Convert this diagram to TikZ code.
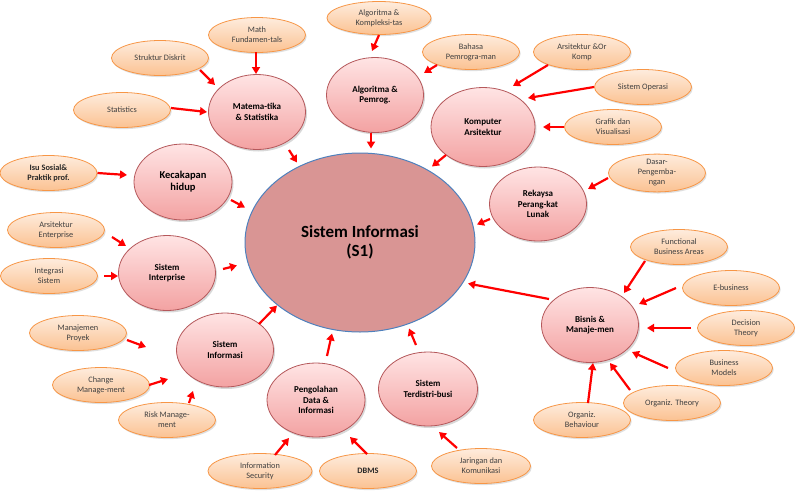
\documentclass[tikz,border=0pt]{standalone}
\usepackage{fontspec}
\setmainfont{Carlito}
\usetikzlibrary{shapes.geometric,shadows,arrows.meta}
\definecolor{pinkT}{HTML}{FFE4E4}
\definecolor{pinkB}{HTML}{F3A2A2}
\definecolor{pinkD}{HTML}{B5585B}
\definecolor{orT}{HTML}{FEECDD}
\definecolor{orB}{HTML}{FBC292}
\definecolor{orD}{HTML}{F79646}
\definecolor{coreF}{HTML}{D99594}
\definecolor{coreD}{HTML}{4F81BD}
\definecolor{arrRed}{HTML}{FF0000}
\newcommand{\conn}[6]{\draw[redarrow] ([shift={(#2,#3)}]#1.center) -- ([shift={(#5,#6)}]#4.center);}
\begin{document}
\begin{tikzpicture}[x=1pt,y=-1pt,
 orng/.style={ellipse, draw=orD, line width=0.8pt, top color=orT, bottom color=orB,
   minimum width=97pt, minimum height=35pt, inner sep=0pt, align=center,
   font=\fontsize{8.3}{10}\selectfont, text=black!75,
   drop shadow={opacity=0.25,shadow xshift=1.2pt,shadow yshift=-1.6pt}},
 pnk/.style={ellipse, draw=pinkD, line width=0.8pt, top color=pinkT, bottom color=pinkB,
   minimum width=97pt, minimum height=75pt, inner sep=0pt, align=center,
   font=\fontsize{9}{10.5}\selectfont\bfseries,
   drop shadow={opacity=0.3,shadow xshift=1.5pt,shadow yshift=-2pt}},
 core/.style={ellipse, draw=coreD, line width=1pt, fill=coreF,
   minimum width=230pt, minimum height=179pt, inner sep=0pt, align=center,
   font=\fontsize{17}{19.5}\selectfont\bfseries},
 redarrow/.style={draw=arrRed, line width=2.2pt, -{Triangle[length=7pt,width=8pt]}}
]
\fill[white] (0,0) rectangle (795,491);
\useasboundingbox (0,0) rectangle (795,491);

% center
\node[core] (C) at (360,242.5) {Sistem Informasi\\(S1)};

% pink circles
\node[pnk] (mat) at (257,112) {Matema-tika\\\& Statistika};
\node[pnk, minimum width=98pt, minimum height=76pt, font=\fontsize{10.5}{12}\selectfont\bfseries] (kec) at (183,182) {Kecakapan\\hidup};
\node[pnk] (alg) at (375,95) {Algoritma \&\\Pemrog.};
\node[pnk, minimum width=104pt, minimum height=79pt] (kom) at (483,127) {Komputer\\Arsitektur};
\node[pnk, minimum height=74pt] (rek) at (538,204) {Rekaysa\\Perang-kat\\Lunak};
\node[pnk] (int) at (167,273) {Sistem\\Interprise};
\node[pnk, minimum height=74pt] (si) at (225,350) {Sistem\\Informasi};
\node[pnk, minimum width=98pt, minimum height=74pt] (peng) at (316,400) {Pengolahan\\Data \&\\Informasi};
\node[pnk, minimum width=99pt, minimum height=74pt] (terd) at (428,389) {Sistem\\Terdistri-busi};
\node[pnk] (bis) at (590,325) {Bisnis \&\\Manaje-men};

% orange ellipses
\node[orng] (mf) at (257,35) {Math\\Fundamen-tals};
\node[orng] (sd) at (160,58) {Struktur Diskrit};
\node[orng] (st) at (122,110) {Statistics};
\node[orng, font=\fontsize{8.3}{10}\selectfont\bfseries, text=black!85] (isu) at (48.5,173) {Isu Sosial\&\\Praktik prof.};
\node[orng, minimum width=104pt, minimum height=33pt] (ak) at (379,18) {Algoritma \&\\Kompleksi-tas};
\node[orng] (bp) at (471,52) {Bahasa\\Pemrogra-man};
\node[orng] (ao) at (582,52) {Arsitektur \&Or\\Komp};
\node[orng] (so) at (643,87) {Sistem Operasi};
\node[orng] (gv) at (613,127) {Grafik dan\\Visualisasi};
\node[orng, minimum height=36pt] (dp) at (657,173) {Dasar-\\Pengemba-\\ngan};
\node[orng] (fb) at (679,247) {Functional\\Business Areas};
\node[orng] (eb) at (731,288) {E-business};
\node[orng] (dt) at (746,328) {Decision\\Theory};
\node[orng] (bm) at (724,368) {Business\\Models};
\node[orng] (ot) at (672,403) {Organiz. Theory};
\node[orng] (ob) at (582,420) {Organiz.\\Behaviour};
\node[orng] (ae) at (56,230) {Arsitektur\\Enterprise};
\node[orng] (is) at (49,276) {Integrasi\\Sistem};
\node[orng] (mp) at (78,333) {Manajemen\\Proyek};
\node[orng] (cm) at (101,385) {Change\\Manage-ment};
\node[orng] (rm) at (167,420) {Risk Manage-\\ment};
\node[orng, minimum width=104pt] (ise) at (260,471) {Information\\Security};
\node[orng, font=\fontsize{8.3}{10}\selectfont\bfseries, text=black!85] (db) at (368,471) {DBMS};
\node[orng, minimum width=99pt] (jk) at (481,466) {Jaringan dan\\Komunikasi};

% arrows
\conn{mf}{-1}{17}{mat}{-1}{-38}
\conn{sd}{40}{12}{mat}{-42}{-27}
\conn{st}{49}{-2}{mat}{-50}{0}
\conn{mat}{32}{38}{C}{-63}{-80}
\conn{isu}{49}{0}{kec}{-56}{-7}
\conn{ak}{0}{17}{alg}{-3}{-44}
\conn{bp}{-34}{13}{alg}{49}{-22}
\conn{ao}{-34}{13}{kom}{30}{-41}
\conn{so}{-49}{0}{kom}{45}{-29}
\conn{gv}{-49}{0}{kom}{60}{0}
\conn{alg}{-4}{38}{C}{11}{-94}
\conn{kom}{-37}{28}{C}{72}{-76}
\conn{dp}{-49}{5}{rek}{50}{-15}
\conn{rek}{-48}{15}{C}{117}{-18}
\conn{kec}{48}{18}{C}{-115}{-35}
\conn{ae}{56}{7}{int}{-41}{-27}
\conn{is}{55}{0}{int}{-49}{3}
\conn{int}{56}{-4}{C}{-123}{23}
\conn{si}{34}{-26}{C}{-83}{63}
\conn{mp}{49}{7}{si}{-79}{-3}
\conn{cm}{48}{0}{si}{-57}{29}
\conn{rm}{22}{-17}{si}{-32}{41}
\conn{ise}{15}{-16}{peng}{-27}{38}
\conn{db}{-1}{-17}{peng}{34}{37}
\conn{jk}{-24}{-18}{terd}{11}{43}
\conn{peng}{11}{-44}{C}{-28}{91}
\conn{terd}{-12}{-44}{C}{49}{86}
\conn{bis}{-41}{-26}{C}{108}{41}
\conn{fb}{-34}{14}{bis}{34}{-32}
\conn{eb}{-55}{0}{bis}{49}{-21}
\conn{dt}{-55}{0}{bis}{57}{3}
\conn{bm}{-56}{0}{bis}{42}{27}
\conn{ot}{-42}{-13}{bis}{20}{38}
\conn{ob}{6}{-17}{bis}{3}{38}
\end{tikzpicture}
\end{document}
